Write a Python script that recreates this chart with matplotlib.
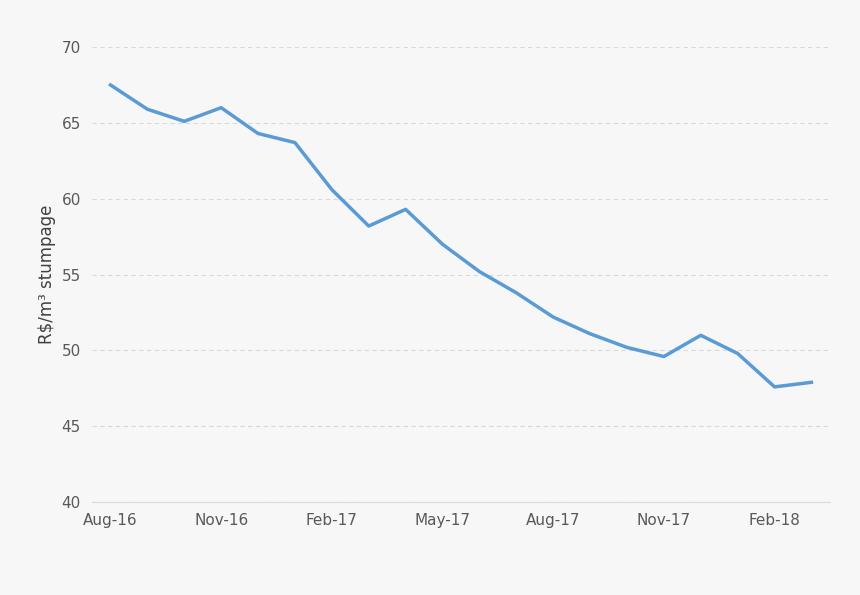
import matplotlib.pyplot as plt

months = ['Aug-16', 'Sep-16', 'Oct-16', 'Nov-16', 'Dec-16', 'Jan-17', 'Feb-17', 'Mar-17',
          'Apr-17', 'May-17', 'Jun-17', 'Jul-17', 'Aug-17', 'Sep-17', 'Oct-17', 'Nov-17',
          'Dec-17', 'Jan-18', 'Feb-18', 'Mar-18']
price = [67.5, 65.9, 65.1, 66.0, 64.3, 63.7, 60.6, 58.2, 59.3, 57.0,
         55.2, 53.8, 52.2, 51.1, 50.2, 49.6, 51.0, 49.8, 47.6, 47.9]

bg = '#f7f7f7'
fig = plt.figure(figsize=(8.6, 5.95), dpi=100, facecolor=bg)
ax = fig.add_axes([0.107, 0.156, 0.858, 0.765], facecolor=bg)
x = range(len(months))
ax.plot(x, price, color='#5b9bd5', linewidth=2.5, solid_joinstyle='round')

ax.set_xlim(-0.5, len(months) - 0.5)
ax.set_ylim(40, 70)
ax.set_yticks(range(40, 71, 5))
ax.set_xticks(list(x)[::3])
ax.set_xticklabels(months[::3])
ax.grid(axis='y', color='#d9d9d9', linestyle=(0, (4, 3)), linewidth=0.8)
for s in ['top', 'right', 'left']:
    ax.spines[s].set_visible(False)
ax.spines['bottom'].set_color('#d9d9d9')
ax.tick_params(length=0, labelsize=11, colors='#595959', pad=8)
ax.set_ylabel('R\\$/m³ stumpage', fontsize=12, color='#404040')
fig.savefig('out.png', dpi=100, facecolor=bg)
